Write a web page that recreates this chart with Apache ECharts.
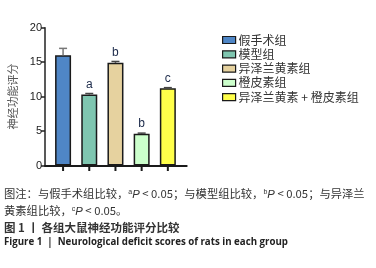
<!DOCTYPE html>
<html><head><meta charset="utf-8">
<script src="https://cdn.jsdelivr.net/npm/echarts@6/dist/echarts.min.js"></script>
<style>
html,body{margin:0;padding:0;background:#fff}
#wrap{position:relative;width:376px;height:268px;overflow:hidden}
#c{position:absolute;left:0;top:0;width:376px;height:268px}
.cap{position:absolute;left:4px;white-space:nowrap;color:#333;font-family:"Noto Sans CJK SC","Noto Sans",sans-serif}
.n{font-size:11.3px;line-height:16px}
.s{font-size:7px;position:relative;top:-4px;font-family:"Liberation Sans",Arial,sans-serif}
.i{font-style:italic;font-family:"Liberation Sans",Arial,sans-serif}
</style>
</head><body><div id="wrap"><div id="c"></div>
<div class="cap n" id="note1" style="top:185px"></div>
<div class="cap n" id="note2" style="top:202px"></div>
<div class="cap" id="cap1" style="top:219px;font-size:11.5px;line-height:16px;font-weight:bold"></div>
<div class="cap" id="cap2" style="top:235px;font-size:9.7px;line-height:14px;font-weight:bold;color:#222;font-family:'Open Sans',sans-serif"></div>
</div>
<script>
const categories = ['假手术组','模型组','异泽兰黄素组','橙皮素组','异泽兰黄素 + 橙皮素组'];
const means = [16.0, 10.3, 14.9, 4.6, 11.2];
const errors = [1.0, 0.15, 0.2, 0.1, 0.1];
const sigLetters = ['', 'a', 'b', 'b', 'c'];
const colors = ['#4f86c6','#7fc6b0','#e6d29f','#ccffcc','#ffff4a'];
const yTicks = [0, 5, 10, 15, 20];
const yAxisTitle = '神经功能评分';
const noteLine1 = '图注：与假手术组比较，<span class="s">a</span><span class="i">P</span> &lt; 0.05；与模型组比较，<span class="s">b</span><span class="i">P</span> &lt; 0.05；与异泽兰';
const noteLine2 = '黄素组比较，<span class="s">c</span><span class="i">P</span> &lt; 0.05。';
const captionCn = '图 1 丨 各组大鼠神经功能评分比较';
const captionEn = 'Figure 1 \u00a0|\u00a0 Neurological deficit scores of rats in each group';

document.getElementById('note1').innerHTML = noteLine1;
document.getElementById('note2').innerHTML = noteLine2;
document.getElementById('cap1').textContent = captionCn;
document.getElementById('cap2').textContent = captionEn;

const F = '"Noto Sans CJK SC", "Noto Sans", sans-serif';
const series = categories.map((name, i) => ({
  name: name, type: 'bar',
  barWidth: 16, barGap: '-100%',
  data: [[i, means[i]]],
  itemStyle: { color: colors[i], borderColor: '#1a1a1a', borderWidth: 1.5 },
  label: { show: true, position: 'top', distance: 3 + errors[i]*6.9, formatter: () => sigLetters[i],
    color: '#1c2a4a', fontSize: 12, fontFamily: 'Liberation Sans, Arial, sans-serif' },
  z: 2
}));
series.push({
  type: 'custom', z: 5, silent: true, clip: false,
  data: means.map((m, i) => [i, m, m + errors[i]]),
  renderItem: function (params, api) {
    const x = api.value(0);
    const p0 = api.coord([x, api.value(1)]);
    const p1 = api.coord([x, api.value(2)]);
    const b = api.coord([x, 0]);
    const hw = 4;
    const col = params.dataIndex === 0 ? '#777' : '#444';
    return { type: 'group', children: [
      { type: 'line', shape: { x1: p0[0], y1: p0[1], x2: p1[0], y2: p1[1] }, style: { stroke: col, lineWidth: 1.5 } },
      { type: 'line', shape: { x1: p1[0]-hw, y1: p1[1], x2: p1[0]+hw, y2: p1[1] }, style: { stroke: col, lineWidth: 1.5 } },
      { type: 'line', shape: { x1: b[0], y1: b[1], x2: b[0], y2: b[1] + 5.5 }, style: { stroke: '#1a1a1a', lineWidth: 2 } }
    ]};
  },
  markLine: {
    symbol: 'none', silent: true, animation: false,
    label: { show: false },
    lineStyle: { color: '#1a1a1a', width: 2, type: 'solid', opacity: 1 },
    data: [{ yAxis: 0 }]
  }
});

const chart = echarts.init(document.getElementById('c'), null, { renderer: 'canvas' });
chart.setOption({
  backgroundColor: 'transparent',
  animation: false,
  textStyle: { fontFamily: F },
  grid: { left: 45, width: 141.7, top: 27.7, height: 137.8 },
  xAxis: {
    type: 'value', min: -0.69, max: 4.72, position: 'bottom', z: 10,
    axisLine: { show: true, onZero: false, lineStyle: { color: '#1a1a1a', width: 2 } },
    axisTick: { show: false },
    axisLabel: { show: false },
    splitLine: { show: false }
  },
  yAxis: {
    type: 'value', min: 0, max: 20, interval: 5,
    name: yAxisTitle, nameLocation: 'middle', nameRotate: 90, nameGap: 27,
    nameTextStyle: { color: '#555', fontSize: 11, fontFamily: F },
    axisLine: { show: true, onZero: false, lineStyle: { color: '#222', width: 1.5 } },
    axisTick: { show: true, length: 4, lineStyle: { color: '#222', width: 1.5 } },
    splitLine: { show: false },
    axisLabel: { margin: 3, color: '#222', fontSize: 11, fontFamily: 'Liberation Sans, Arial, sans-serif',
      formatter: v => yTicks.includes(v) ? String(v) : '' }
  },
  legend: {
    orient: 'vertical', left: 217, top: 29, itemWidth: 13, itemHeight: 7, itemGap: 2.3,
    icon: 'rect',
    data: categories,
    itemStyle: { borderColor: '#1a1a1a', borderWidth: 1.2 },
    textStyle: { color: '#333', fontSize: 12, fontFamily: F, padding: [0,0,0,-2] }
  },
  series: series
});
</script></body></html>
